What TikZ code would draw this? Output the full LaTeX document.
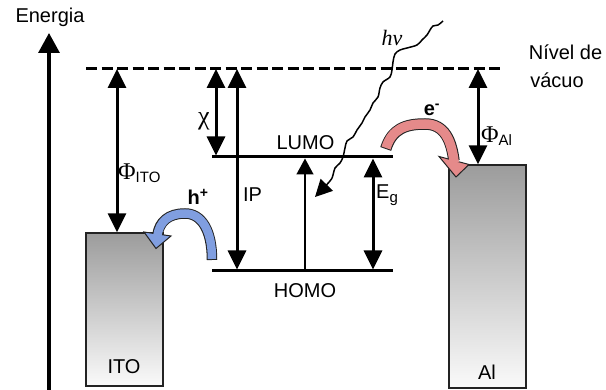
\documentclass[tikz,border=0pt]{standalone}
\usepackage{fontspec}
\setmainfont{Liberation Sans}
\newfontfamily\serifgr{Liberation Serif}
\usetikzlibrary{arrows.meta}
\definecolor{redarr}{RGB}{229,138,138}
\definecolor{bluearr}{RGB}{128,158,224}
\definecolor{outl}{RGB}{35,35,35}
\definecolor{boxtop}{RGB}{156,156,156}
\definecolor{boxbot}{RGB}{250,250,250}
\begin{document}
\begin{tikzpicture}[x=1pt,y=-1pt,
  lbl/.style={inner sep=0pt, font=\fontsize{20}{22}\selectfont},
  metal/.style={draw=outl, line width=1.3pt, top color=boxtop, bottom color=boxbot, inner sep=0pt},
  level/.style={line width=3pt},
  dblarrow/.style={line width=3pt, {Triangle[length=19pt,width=18pt]}-{Triangle[length=19pt,width=18pt]}},
  bandout/.style={line width=#1, draw=outl},
  tiphead/.style={draw=outl, line width=1pt, line join=miter}
]
\useasboundingbox (0,0) rectangle (606,390);

% energy axis
\coordinate (axB) at (49,390);
\coordinate (axT) at (49,33);
\draw[line width=3.2pt, -{Triangle[length=20pt,width=21pt]}] (axB) -- (axT);
\node[lbl] (energia) at (50,17) {Energia};

% vacuum level
\coordinate (vacL) at (86,69);
\coordinate (vacR) at (504,69);
\draw[level, dash pattern=on 11pt off 4.5pt] (vacL) -- (vacR);
\node[lbl] (nivel) at (565.5,52) {Nível de};
\node[lbl] (vacuo) at (557,80) {vácuo};

% metals
\node[metal, minimum width=77pt, minimum height=153pt] (ito) at (124.5,309.5) {};
\node[metal, minimum width=77pt, minimum height=223pt] (al) at (487.5,276.5) {};
\node[lbl] (itol) at (124,367) {ITO};
\node[lbl] (all) at (487,372) {Al};

% LUMO / HOMO
\coordinate (lumoL) at (212,157);
\coordinate (lumoR) at (393,157);
\coordinate (homoL) at (212,271);
\coordinate (homoR) at (393,271);
\draw[level] (lumoL) -- (lumoR);
\draw[level] (homoL) -- (homoR);
\node[lbl] (lumo) at (305.5,143) {LUMO};
\node[lbl] (homo) at (305,291) {HOMO};

% work function ITO
\coordinate (phiT) at (117,69);
\draw[dblarrow] (phiT) -- (phiT |- ito.north);
\node[lbl, anchor=west] (phiito) at (118,173) {{\fontsize{24}{24}\selectfont\serifgr Φ}\raisebox{-3pt}{\fontsize{15}{15}\selectfont ITO}};

% chi
\coordinate (chiT) at (216,69);
\draw[dblarrow] (chiT) -- (chiT |- 0,155.5);
\node[lbl] (chi) at (204,121) {\fontsize{26}{26}\selectfont\serifgr χ};

% IP
\coordinate (ipT) at (237,69);
\draw[dblarrow] (ipT) -- (ipT |- 0,269.5);
\node[lbl] (ip) at (252.5,195) {IP};

% optical transition
\coordinate (trB) at (305,271);
\coordinate (trT) at (305,158.5);
\draw[line width=1.5pt, -{Triangle[length=16pt,width=17pt]}] (trB) -- (trT);

% Eg
\coordinate (egT) at (373,158.5);
\coordinate (egB) at (373,269.5);
\draw[dblarrow] (egT) -- (egB);
\node[lbl, anchor=west] (eg) at (376,195) {E\raisebox{-4pt}{\fontsize{15}{15}\selectfont g}};

% work function Al
\coordinate (phialT) at (478,69);
\draw[dblarrow] (phialT) -- (phialT |- al.north);
\node[lbl, anchor=west] (phial) at (481,136) {{\fontsize{24}{24}\selectfont\serifgr Φ}\raisebox{-3pt}{\fontsize{15}{15}\selectfont Al}};

% photon
\draw[line width=1.5pt, -{Triangle[length=17pt,width=17pt]}]
  plot[smooth, tension=0.55] coordinates {(443,21) (438,25) (433,26) (430,30) (427,35) (422,40) (417,45)
  (407,48) (400,50) (395,54) (393,62) (392,70) (390,77) (383,82) (380,88) (378,97) (373,103) (370,110)
  (365,117) (362,123) (357,130) (353,137) (347,141) (345,148) (343,157) (340,163) (335,168) (333,175)
  (330,181) (315,197)};
\node[lbl, font=\fontsize{22}{22}\selectfont\serifgr\itshape] (hnu) at (392,38) {hν};

% electron curved arrow (red)
\draw[bandout=11.5pt, shorten <=-1pt] (386,148) .. controls (392,129) and (405,124) .. (425,124)
  .. controls (445,124) and (451.4,141) .. (454,161);
\filldraw[tiphead, fill=redarr] (439,156.5) -- (456,177) -- (469,164.5) -- cycle;
\draw[line width=9.5pt, redarr, shorten >=-1.5pt] (386,148) .. controls (392,129) and (405,124) .. (425,124)
  .. controls (445,124) and (451.4,141) .. (454,161);
\node[lbl, anchor=center] (elec) at (432,110) {\textbf{e}\textsuperscript{\textbf{-}}};

% hole curved arrow (blue)
\draw[bandout=10.5pt, shorten <=-1pt] (212,259) .. controls (212,231) and (202,213.5) .. (185,213.5)
  .. controls (168,213.5) and (159.5,222) .. (157.5,234.5);
\filldraw[tiphead, fill=bluearr] (171,236) -- (156,248.5) -- (144,232) -- cycle;
\draw[line width=8.5pt, bluearr, shorten >=-1.5pt] (212,259) .. controls (212,231) and (202,213.5) .. (185,213.5)
  .. controls (168,213.5) and (159.5,222) .. (157.5,234.5);
\node[lbl, anchor=center] (hole) at (198,197) {\textbf{h}\textsuperscript{\textbf{+}}};
\end{tikzpicture}
\end{document}
